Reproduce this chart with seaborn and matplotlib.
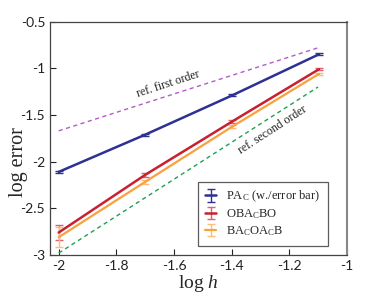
import numpy as np
import pandas as pd
import matplotlib
matplotlib.use("Agg")
import matplotlib.pyplot as plt
import seaborn as sns

# data
log_h = [-2.0, -1.699, -1.398, -1.097]
pa_c = [-2.11, -1.71, -1.29, -0.85]
pa_c_err = [0.012, 0.01, 0.01, 0.01]
oba_c_bo = [-2.76, -2.14, -1.57, -1.01]
oba_c_bo_err = [0.085, 0.02, 0.015, 0.01]
ba_c_oa_c_b = [-2.81, -2.215, -1.625, -1.06]
ba_c_oa_c_b_err = [0.11, 0.02, 0.015, 0.01]

ref_x = [-2.0, -1.1]
ref_first = [-1.67, -0.78]
ref_second = [-2.98, -1.20]

sns.set_style("ticks")
plt.rcParams["font.family"] = ["Lato", "DejaVu Sans"]
plt.rcParams["mathtext.fontset"] = "custom"
plt.rcParams["mathtext.rm"] = "Liberation Serif"
plt.rcParams["mathtext.it"] = "Liberation Serif:italic"

fig = plt.figure(figsize=(3.82, 3.01), dpi=100)
ax = fig.add_axes([0.131, 0.153, 0.777, 0.775])

ref = pd.DataFrame({"x": ref_x * 2,
                    "y": ref_first + ref_second,
                    "kind": ["first"] * 2 + ["second"] * 2})
sns.lineplot(data=ref, x="x", y="y", hue="kind",
             palette={"first": "#b45ac8", "second": "#1f9e55"},
             linestyle=(0, (3, 2.5)), linewidth=1.0, legend=False, ax=ax)

blue = ax.errorbar(log_h, pa_c, yerr=pa_c_err, color="#2e3192", lw=1.8,
                   capsize=3, elinewidth=1.0, label="PA$_\\mathrm{C}$ (w./error bar)")
red = ax.errorbar(log_h, oba_c_bo, yerr=oba_c_bo_err, color="#c8202f", lw=1.8,
                  capsize=3, elinewidth=1.0, ecolor="#e06070",
                  label="OBA$_\\mathrm{C}$BO")
orange = ax.errorbar(log_h, ba_c_oa_c_b, yerr=ba_c_oa_c_b_err, color="#f9a23c", lw=1.6,
                     capsize=3, elinewidth=1.0, ecolor="#fbbf7a",
                     label="BA$_\\mathrm{C}$OA$_\\mathrm{C}$B")

serif = ["Liberation Serif", "DejaVu Serif"]
ax.text(-1.62, -1.168, "ref. first order", rotation=18, ha="center", va="center",
        fontsize=8.5, family=serif, color="#222222")
ax.text(-1.258, -1.664, "ref. second order", rotation=33, ha="center", va="center",
        fontsize=8.5, family=serif, color="#222222")

ax.set_xlim(-2.03, -1.0)
ax.set_ylim(-3.0, -0.5)
ax.set_xticks([-2, -1.8, -1.6, -1.4, -1.2, -1])
ax.set_xticklabels(["-2", "-1.8", "-1.6", "-1.4", "-1.2", "-1"])
ax.set_yticks([-3, -2.5, -2, -1.5, -1, -0.5])
ax.set_yticklabels(["-3", "-2.5", "-2", "-1.5", "-1", "-0.5"])
ax.tick_params(direction="in", length=4, labelsize=10, colors="#222222", width=0.8)
for s in ax.spines.values():
    s.set_color("#444444")
    s.set_linewidth(0.9)
ax.spines["right"].set_color("#888888")
ax.spines["right"].set_linewidth(1.5)

ax.set_xlabel("log $h$", fontsize=14, family=serif, labelpad=1)
ax.set_ylabel("log error", fontsize=14.5, family=serif)
ax.yaxis.set_label_coords(-0.075, 0.40)

leg = ax.legend(handles=[blue, red, orange], loc="lower right",
                bbox_to_anchor=(0.936, 0.039), borderaxespad=0, frameon=True,
                fancybox=False, prop={"family": serif, "size": 9},
                handlelength=0.9, borderpad=0.6, labelspacing=0.25)
leg.get_frame().set_edgecolor("#333333")
leg.get_frame().set_linewidth(0.9)

fig.savefig("out.png", dpi=100)
